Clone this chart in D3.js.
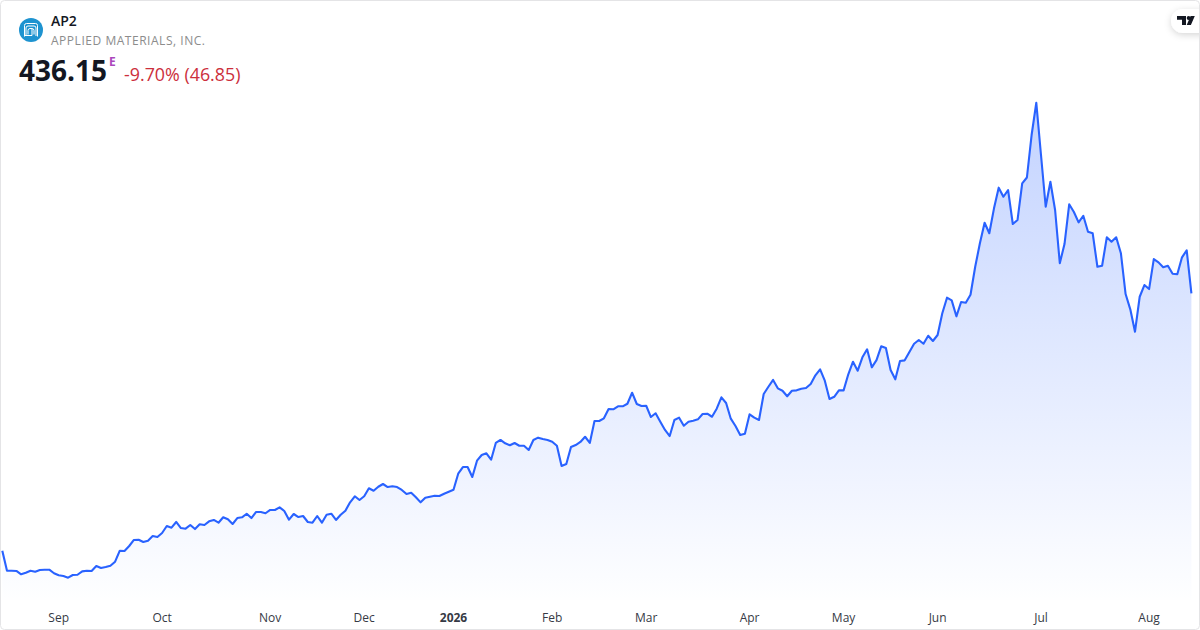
<!DOCTYPE html>
<html>
<head>
<meta charset="utf-8">
<script src="https://cdn.jsdelivr.net/npm/d3@7/dist/d3.min.js"></script>
<style>
html,body{margin:0;padding:0;background:#fff;overflow:hidden}
svg{display:block}
text{font-family:"Open Sans",sans-serif}
</style>
</head>
<body>
<svg id="c" width="1200" height="630"></svg>
<script>
const symbol = "AP2";
const companyName = "APPLIED MATERIALS, INC.";
const lastPrice = "436.15";
const changeText = "-9.70% (46.85)";
const tickLabels = ["Sep","Oct","Nov","Dec","2026","Feb","Mar","Apr","May","Jun","Jul","Aug"];
const tickIndexes = [12,34,57,77,96,117,137,159,179,199,221,244];
const prices = [
155.6,133.8,133.8,133.5,129.9,131.6,133.8,132.7,134.6,134.9,
134.9,131.0,128.8,128.0,126.2,129.1,129.4,133.1,133.8,133.5,
138.9,136.7,137.8,139.2,143.6,155.6,155.3,160.7,167.3,167.6,
165.1,166.5,171.6,170.5,174.9,182.5,180.7,186.9,180.3,179.6,
183.6,179.2,184.4,183.6,187.6,189.1,186.1,192.0,189.8,184.7,
191.2,192.0,195.9,191.2,197.8,197.8,196.4,200.0,200.0,202.9,
198.9,189.4,195.6,192.3,
193.4,186.9,186.1,193.4,186.1,194.8,195.9,189.1,194.8,199.2,
208.3,214.9,210.9,214.9,223.6,221.0,225.3,228.3,225.0,225.8,
225.0,221.8,217.4,218.8,213.8,208.3,213.4,214.4,215.5,215.2,
217.7,219.9,222.1,239.5,246.8,246.8,235.9,253.7,259.9,261.8,
254.8,273.0,276.3,272.7,270.5,273.0,270.0,270.0,265.4,276.3,
278.8,277.3,276.3,274.4,270.0,247.9,250.1,268.6,270.8,274.1,
279.8,273.0,297.0,297.0,
299.9,310.0,309.7,313.0,313.0,315.8,327.8,315.5,313.3,313.6,
301.3,305.4,296.2,287.2,280.6,298.1,300.6,291.8,296.2,297.3,
298.8,304.6,304.9,301.6,310.4,322.8,316.6,299.5,291.5,281.7,
283.1,304.3,300.6,298.1,326.4,334.3,341.7,332.6,330.0,323.9,
330.0,330.4,332.2,332.9,337.3,346.8,353.3,340.9,320.9,323.4,
330.4,330.4,347.9,361.6,351.8,366.4,375.1,355.5,363.4,
378.4,376.5,352.6,342.4,362.4,363.1,372.2,381.2,385.3,381.2,
389.9,384.2,390.7,414.4,431.4,428.5,411.1,426.7,425.9,434.6,
465.1,490.7,513.1,501.6,528.8,551.3,541.4,548.7,511.7,516.0,
556.0,562.4,608.7,643.9,586.9,530.5,557.8,527.0,468.9,489.9,
533.2,524.8,513.5,520.7,503.3,501.6,465.1,466.2,497.2,492.4,
497.2,479.8,435.4,418.7,394.3,432.4,445.2,440.8,473.5,469.9,
464.5,466.2,457.5,456.9,475.4,483.0,436.15
];

const W = 1200, H = 630, plotBottom = 600;
const svg = d3.select("#c");
const x = d3.scaleLinear().domain([0, prices.length - 1]).range([2.3, 1191.4]);
const y = d3.scaleLinear().domain([100, 750]).range([601.7, 5.4]);

const defs = svg.append("defs");
const grad = defs.append("linearGradient").attr("id","fill")
  .attr("gradientUnits","userSpaceOnUse")
  .attr("x1",0).attr("x2",0)
  .attr("y1",y(d3.max(prices))).attr("y2",plotBottom);
grad.append("stop").attr("offset",0).attr("stop-color","#2962FF").attr("stop-opacity",0.28);
grad.append("stop").attr("offset",1).attr("stop-color","#2962FF").attr("stop-opacity",0.005);
const sh = defs.append("filter").attr("id","sh").attr("x","-40%").attr("y","-40%").attr("width","180%").attr("height","180%");
sh.append("feDropShadow").attr("dx",0).attr("dy",2).attr("stdDeviation",3.5).attr("flood-color","#000").attr("flood-opacity",0.16);

svg.append("path").datum(prices)
  .attr("fill","url(#fill)")
  .attr("d", d3.area().x((d,i)=>x(i)).y0(plotBottom).y1(d=>y(d)));
svg.append("path").datum(prices)
  .attr("fill","none").attr("stroke","#2962FF").attr("stroke-width",2.1)
  .attr("stroke-linejoin","round")
  .attr("d", d3.line().x((d,i)=>x(i)).y(d=>y(d)));

// x axis labels
const ax = svg.append("g").attr("transform","translate(0,622)")
  .call(d3.axisBottom(x).tickValues(tickIndexes).tickSize(0).tickPadding(0).offset(0)
    .tickFormat((d,i)=>tickLabels[i]));
ax.select(".domain").remove();
ax.selectAll("text").attr("y",0).attr("dy",0).attr("fill","#363a45")
  .attr("font-size",12).attr("font-family",'"Open Sans",sans-serif')
  .attr("font-weight",(d,i)=>tickLabels[i]==="2026"?700:400);

// header
const logo = svg.append("g").attr("transform","translate(31,30)");
logo.append("circle").attr("r",12).attr("fill","#1e93d0");
[[-6.5,-6.5,13,13],[-5,-4,10,10],[-3,-1.5,6,6]].forEach((r,i)=>{
  logo.append("path").attr("fill","none").attr("stroke","#fff").attr("stroke-width",1)
    .attr("d",`M${r[0]} ${r[1]+r[3]}V${r[1]+2}Q${r[0]} ${r[1]} ${r[0]+2} ${r[1]}H${r[0]+r[2]-2}Q${r[0]+r[2]} ${r[1]} ${r[0]+r[2]} ${r[1]+2}V${r[1]+r[3]}`);
});
logo.append("path").attr("fill","none").attr("stroke","#fff").attr("stroke-width",1)
  .attr("d","M-6.5 5.5H1V-1");

svg.append("text").attr("x",51).attr("y",26).attr("font-size",14).attr("font-weight",600).attr("fill","#131722").text(symbol);
svg.append("text").attr("x",51).attr("y",45).attr("font-size",12).attr("fill","#8c8c8c").attr("textLength",154).text(companyName);
svg.append("text").attr("x",19).attr("y",81).attr("font-size",28).attr("font-weight",700).attr("fill","#131722").text(lastPrice);
svg.append("text").attr("x",109).attr("y",66).attr("font-size",12).attr("font-weight",700).attr("fill","#ab47bc").text("E");
svg.append("text").attr("x",124).attr("y",81).attr("font-size",17.85).attr("fill","#cc2f3c").text(changeText);

// TradingView badge
const badge = svg.append("g");
badge.append("rect").attr("x",1171).attr("y",9).attr("width",45).attr("height",24).attr("rx",12).attr("fill","#fff").attr("filter","url(#sh)");
badge.append("path").attr("fill","#131722").attr("d","M1177 16h9v9h-4v-5.2h-5z M1194.8 16l-3.9 9h-4.2l3.9-9z");
badge.append("circle").attr("cx",1188.6).attr("cy",18).attr("r",1.9).attr("fill","#131722");

// frame
svg.append("rect").attr("x",0.5).attr("y",0.5).attr("width",W-1).attr("height",H-1).attr("rx",4)
  .attr("fill","none").attr("stroke","#e4e4e6");
</script>
</body>
</html>
